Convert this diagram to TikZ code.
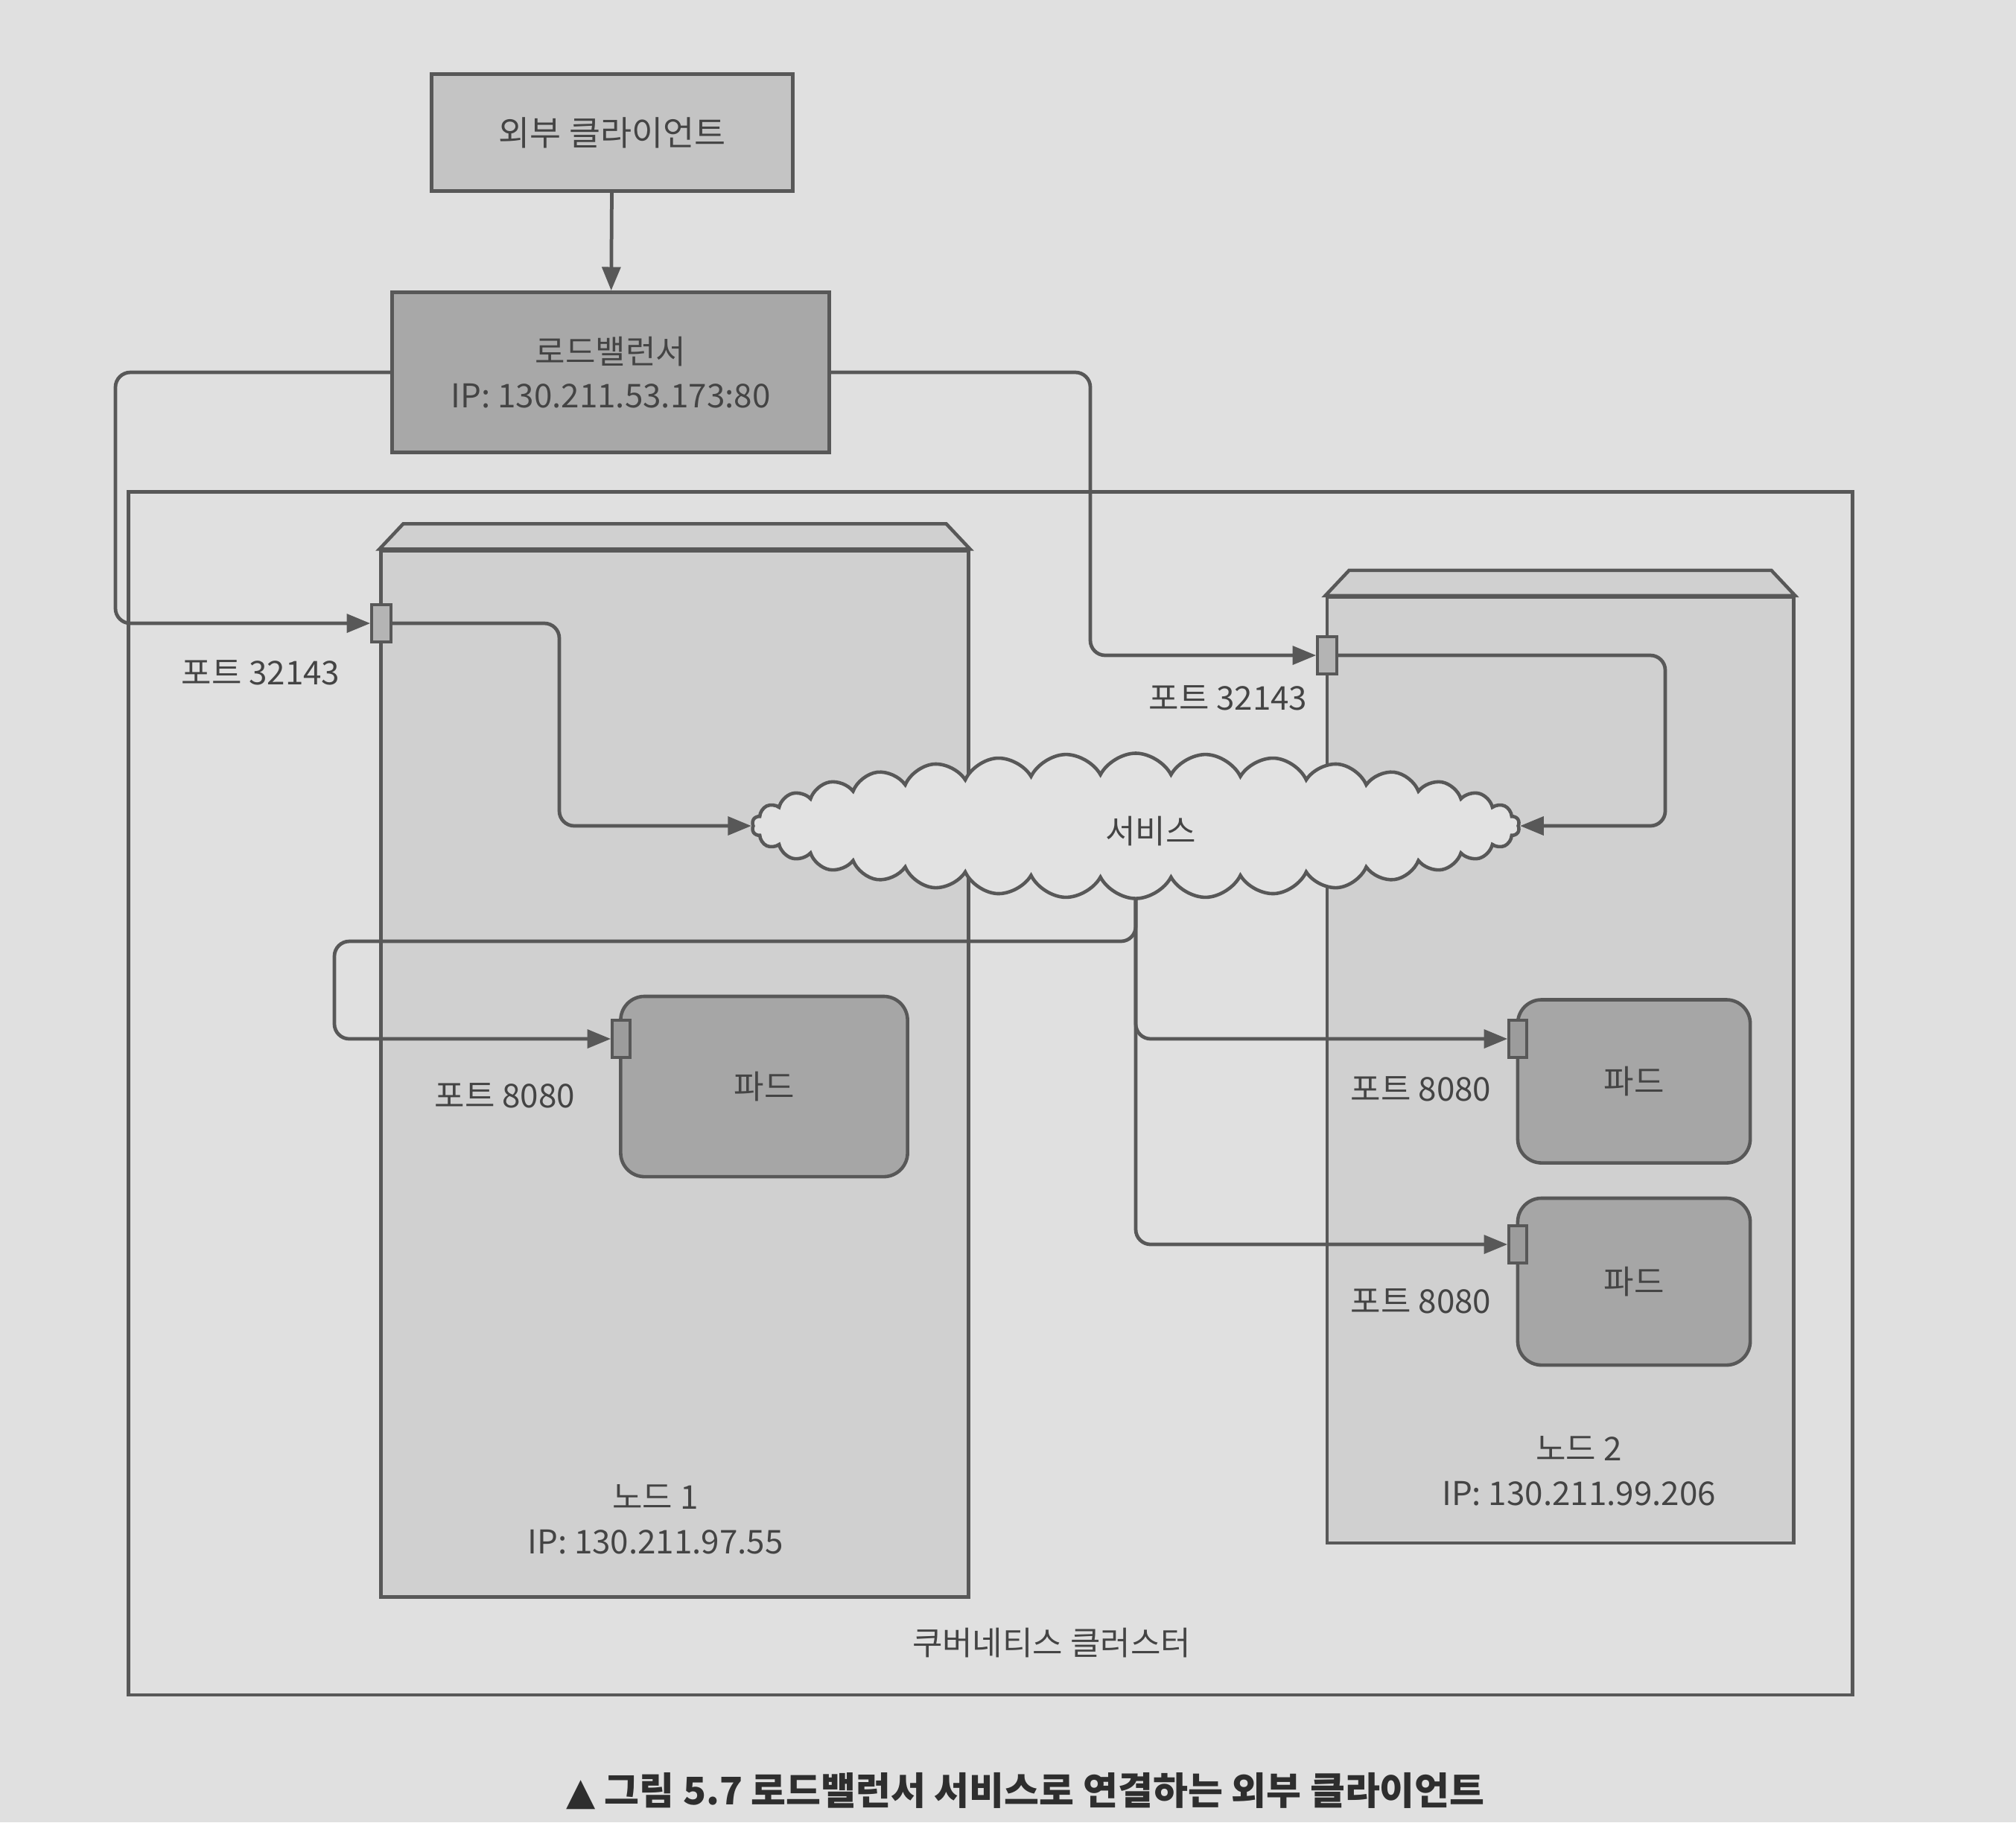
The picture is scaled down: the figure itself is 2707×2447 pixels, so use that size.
\documentclass[tikz,border=0pt]{standalone}
\usepackage{fontspec}
\setmainfont{Noto Sans CJK KR}
\newfontfamily\symfont{DejaVu Sans}
\usetikzlibrary{arrows.meta,shapes.symbols}
\definecolor{paper}{HTML}{E0E0E0}
\definecolor{linec}{HTML}{585858}
\definecolor{txt}{HTML}{444444}
\definecolor{clientc}{HTML}{C4C4C4}
\definecolor{lbc}{HTML}{A8A8A8}
\definecolor{nodec}{HTML}{D0D0D0}
\definecolor{podc}{HTML}{A6A6A6}
\definecolor{cloudc}{HTML}{E2E2E2}
\definecolor{portc}{HTML}{B4B4B4}
\definecolor{podportc}{HTML}{9C9C9C}
\begin{document}
\begin{tikzpicture}[x=0.01cm,y=-0.01cm,
  lab/.style={text=txt,font=\fontsize{12.5}{17}\selectfont,inner sep=0pt,align=center},
  box/.style={draw=linec,line width=1.3pt,lab},
  nodebox/.style={draw=linec,line width=1.3pt,fill=nodec},
  podbox/.style={box,fill=podc,rounded corners=0.32cm},
  portbox/.style={draw=linec,line width=1pt,fill=portc,minimum width=0.26cm,minimum height=0.5cm,inner sep=0pt},
  conn/.style={draw=linec,line width=1.35pt,rounded corners=0.2cm,-{Triangle[length=9pt,width=7pt]}}]
\fill[paper] (0,0) rectangle (2707,2447);
\useasboundingbox (0,0) rectangle (2707,2447);

% cluster
\node[draw=linec,line width=1.4pt,minimum width=23.13cm,minimum height=16.15cm,inner sep=0pt] (cluster) at (1330,1468) {};
\node[lab] (clusterlbl) at (1412,2206) {쿠버네티스 클러스터};

% top boxes
\node[box,fill=clientc,minimum width=4.85cm,minimum height=1.57cm,font=\fontsize{13}{17}\selectfont] (client) at (822,178) {외부 클라이언트};
\node[box,fill=lbc,minimum width=5.87cm,minimum height=2.15cm] (lb) at (820,500) {로드밸런서\\IP: 130.211.53.173:80};

% node 1
\node[nodebox,minimum width=7.88cm,minimum height=14.04cm,inner sep=0pt] (n1) at (906,1442) {};
\draw[nodebox] (n1.north west) -- ++(32,-34) -- ([shift={(-32,-34)}]n1.north east) -- (n1.north east) -- cycle;
\node[lab] (n1lbl) at (880,2040) {노드 1\\IP: 130.211.97.55};

% node 2
\node[nodebox,minimum width=6.26cm,minimum height=12.69cm,inner sep=0pt] (n2) at (2095,1437) {};
\draw[nodebox] (n2.north west) -- ++(32,-34) -- ([shift={(-32,-34)}]n2.north east) -- (n2.north east) -- cycle;
\node[lab] (n2lbl) at (2120,1975) {노드 2\\IP: 130.211.99.206};

% pods
\node[podbox,minimum width=3.85cm,minimum height=2.42cm] (pod1) at (1026,1459) {파드};
\node[podbox,minimum width=3.12cm,minimum height=2.19cm] (pod2) at (2194,1452) {파드};
\node[podbox,minimum width=3.12cm,minimum height=2.24cm] (pod3) at (2194,1721) {파드};

% cloud
\node[cloud,draw=linec,fill=cloudc,line width=1.3pt,cloud puffs=34,cloud puff arc=125,aspect=5,
      minimum width=10.3cm,minimum height=1.95cm,inner sep=0pt,lab] (svc) at (1525,1109) {};
\node[lab] (svclbl) at (1545,1116) {서비스};

% ports
\node[portbox] (np1) at (512,837) {};
\node[portbox] (np2) at (1782,880) {};
\node[portbox,fill=podportc,minimum width=0.24cm] (pp1) at (834,1395) {};
\node[portbox,fill=podportc,minimum width=0.24cm] (pp2) at (2038,1395) {};
\node[portbox,fill=podportc,minimum width=0.24cm] (pp3) at (2038,1671) {};

% connectors
\draw[conn] (client) -- (lb);
\draw[conn] (lb.west) -| (155,837) -- (np1.west);
\draw[conn] (lb.east) -| (1464,880) -- (np2.west);
\draw[conn] (np1.east) -| (751,1109) -- (svc.west);
\draw[conn] (np2.east) -| (2236,1109) -- (svc.east);
\draw[conn] (svc.south) |- (449,1264) |- (pp1.west);
\draw[conn] (svc.south) |- (pp2.west);
\draw[conn] (svc.south) |- (pp3.west);

% redraw ports on top
\node[portbox] at (np1) {};
\node[portbox] at (np2) {};
\node[portbox,fill=podportc,minimum width=0.24cm] at (pp1) {};
\node[portbox,fill=podportc,minimum width=0.24cm] at (pp2) {};
\node[portbox,fill=podportc,minimum width=0.24cm] at (pp3) {};

% port labels
\node[lab] (l1) at (350,903) {포트 32143};
\node[lab] (l2) at (1649,937) {포트 32143};
\node[lab] (l3) at (678,1471) {포트 8080};
\node[lab] (l4) at (1908,1462) {포트 8080};
\node[lab] (l5) at (1908,1747) {포트 8080};

% caption
\node[anchor=west,inner sep=0pt,text=black!82,font=\bfseries\fontsize{14.5}{17}\selectfont] (cap) at (760,2405) {{\symfont ▲} 그림 5.7 로드밸런서 서비스로 연결하는 외부 클라이언트};
\end{tikzpicture}
\end{document}
